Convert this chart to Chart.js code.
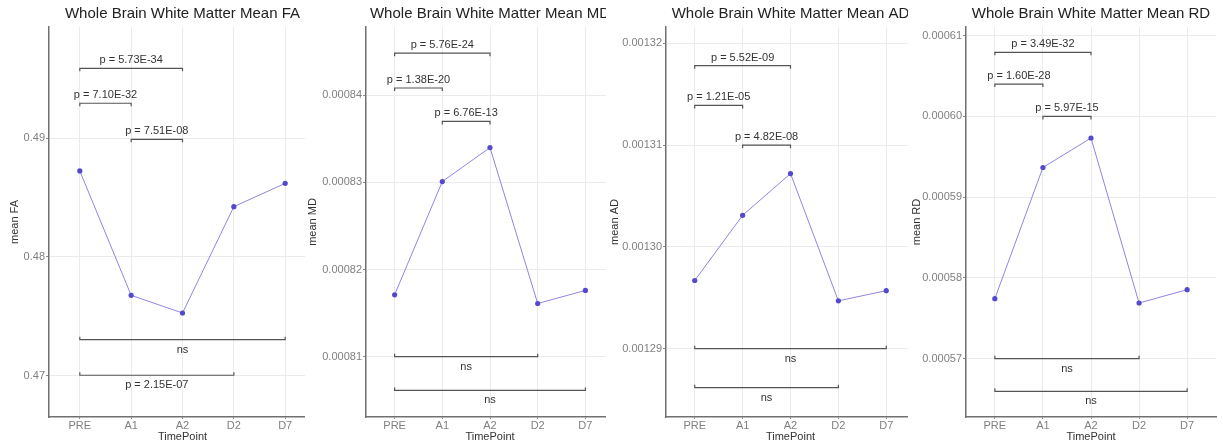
<!DOCTYPE html>
<html>
<head>
<meta charset="utf-8">
<script src="https://cdn.jsdelivr.net/npm/chart.js@4.4.1/dist/chart.umd.min.js"></script>
<style>
  body { margin: 0; background: #fff; width: 1223px; height: 444px; position: relative; overflow: hidden; }
  canvas { position: absolute; top: 0; background: #fff; }
</style>
</head>
<body>
<canvas id="fa-chart" width="320" height="444" style="left:0px"></canvas>
<canvas id="md-chart" width="313" height="444" style="left:305px"></canvas>
<canvas id="ad-chart" width="313" height="444" style="left:606px"></canvas>
<canvas id="rd-chart" width="315" height="444" style="left:908px"></canvas>
<script>
const time_points = ["PRE", "A1", "A2", "D2", "D7"];

const mean_fa = [0.48723, 0.47678, 0.47529, 0.48423, 0.48619];
const mean_md = [0.0008171, 0.0008301, 0.0008340, 0.0008161, 0.0008176];
const mean_ad = [0.0012967, 0.0013031, 0.0013072, 0.0012947, 0.0012957];
const mean_rd = [0.00057744, 0.00059368, 0.00059733, 0.00057690, 0.00057855];

// significance brackets: which time points they join, their height, their text
const fa_pairs = [[0, 2], [0, 1], [1, 2], [0, 4], [0, 3]];
const fa_levels = [0.49586, 0.49292, 0.48989, 0.47305, 0.47006];
const fa_labels = ["p = 5.73E-34", "p = 7.10E-32", "p = 7.51E-08", "ns", "p = 2.15E-07"];

const md_pairs = [[0, 2], [0, 1], [1, 2], [0, 3], [0, 4]];
const md_levels = [0.00084484, 0.00084084, 0.0008370, 0.00081, 0.00080612];
const md_labels = ["p = 5.76E-24", "p = 1.38E-20", "p = 6.76E-13", "ns", "ns"];

const ad_pairs = [[0, 2], [0, 1], [1, 2], [0, 4], [0, 3]];
const ad_levels = [0.0013178, 0.0013139, 0.00131, 0.00129, 0.00128617];
const ad_labels = ["p = 5.52E-09", "p = 1.21E-05", "p = 4.82E-08", "ns", "ns"];

const rd_pairs = [[0, 2], [0, 1], [1, 2], [0, 3], [0, 4]];
const rd_levels = [0.00060794, 0.00060401, 0.0006, 0.00057, 0.00056596];
const rd_labels = ["p = 3.49E-32", "p = 1.60E-28", "p = 5.97E-15", "ns", "ns"];

const FONT = "'Liberation Sans', Arial, sans-serif";

function makeChart(id, title, y_label, values, pairs, levels, labels, y_min, y_max, digits, y_width, right_pad, title_pad){
    const ctx = document.getElementById(id).getContext("2d");

    const annotate = {
        id: "annotate",
        afterDraw(chart){
            const c = chart.ctx;
            const x = chart.scales.x, y = chart.scales.y;
            const area = chart.chartArea;
            const top_val = Math.max(...values);
            c.save();
            // brackets
            c.strokeStyle = "#555";
            c.lineWidth = 1.2;
            c.fillStyle = "#333";
            c.font = "11px " + FONT;
            c.textAlign = "center";
            c.textBaseline = "middle";
            pairs.forEach((p, i) => {
                const x1 = x.getPixelForValue(p[0]);
                const x2 = x.getPixelForValue(p[1]);
                const yy = y.getPixelForValue(levels[i]);
                const above = levels[i] > top_val;
                const tick = above ? 3 : -3;
                c.beginPath();
                c.moveTo(x1, yy + tick);
                c.lineTo(x1, yy);
                c.lineTo(x2, yy);
                c.lineTo(x2, yy + tick);
                c.stroke();
                c.fillText(labels[i], (x1 + x2) / 2, above ? yy - 8 : yy + 10);
            });
            // title
            c.fillStyle = "#222";
            c.font = "15px " + FONT;
            c.fillText(title, (area.left + area.right) / 2, 14);
            c.restore();
        }
    };

    return new Chart(ctx, {
        type: "line",
        data: {
            datasets: [{
                data: values.map((v, i) => ({x: i, y: v})),
                borderColor: "#8e85e2",
                borderWidth: 1,
                pointRadius: 2.6,
                pointBorderWidth: 0,
                pointBackgroundColor: "#5448cc",
                tension: 0,
            }],
        },
        options: {
            responsive: false,
            animation: false,
            layout: {padding: {top: 27, right: right_pad, left: 0, bottom: 0}},
            plugins: {legend: {display: false}, tooltip: {enabled: false}},
            scales: {
                x: {
                    type: "linear",
                    min: -0.6,
                    max: 4.6,
                    afterFit(s){ s.height = 27; },
                    ticks: {
                        stepSize: 1, includeBounds: false, autoSkip: false, maxRotation: 0,
                        padding: 0, color: "#808080", font: {family: FONT, size: 11},
                        callback: (v) => time_points[v],
                    },
                    grid: {color: "#ebebeb", lineWidth: 1, tickLength: 2, tickColor: "#888"},
                    border: {color: "#707070", width: 1.5},
                    title: {display: true, text: "TimePoint", color: "#333",
                        font: {family: FONT, size: 11}, padding: {top: 0, bottom: 0.4}},
                },
                y: {
                    min: y_min,
                    max: y_max,
                    afterFit(s){ s.width = y_width; },
                    ticks: {
                        stepSize: digits == 2 ? 0.01 : 0.00001, includeBounds: false,
                        padding: 1, color: "#808080", font: {family: FONT, size: 11},
                        callback: (v) => v.toFixed(digits),
                    },
                    grid: {color: "#ebebeb", lineWidth: 1, tickLength: 3, tickColor: "#888"},
                    border: {color: "#707070", width: 1.5},
                    title: {display: true, text: y_label, color: "#333",
                        font: {family: FONT, size: 11}, padding: {top: title_pad, bottom: 0}},
                },
            },
        },
        plugins: [annotate],
    });
}

makeChart("fa-chart", "Whole Brain White Matter Mean FA", "mean FA", mean_fa, fa_pairs, fa_levels, fa_labels,
    0.46655, 0.49933, 2, 49, 4, 8.4);
makeChart("md-chart", "Whole Brain White Matter Mean MD", "mean MD", mean_md, md_pairs, md_levels, md_labels,
    0.00080307, 0.00084784, 5, 61, 4, 1.7);
makeChart("ad-chart", "Whole Brain White Matter Mean AD", "mean AD", mean_ad, ad_pairs, ad_levels, ad_labels,
    0.00128329, 0.0013216, 5, 60, 4, 2.4);
makeChart("rd-chart", "Whole Brain White Matter Mean RD", "mean RD", mean_rd, rd_pairs, rd_levels, rd_labels,
    0.00056278, 0.00061108, 5, 58, 7, 2.4);
</script>
</body>
</html>
